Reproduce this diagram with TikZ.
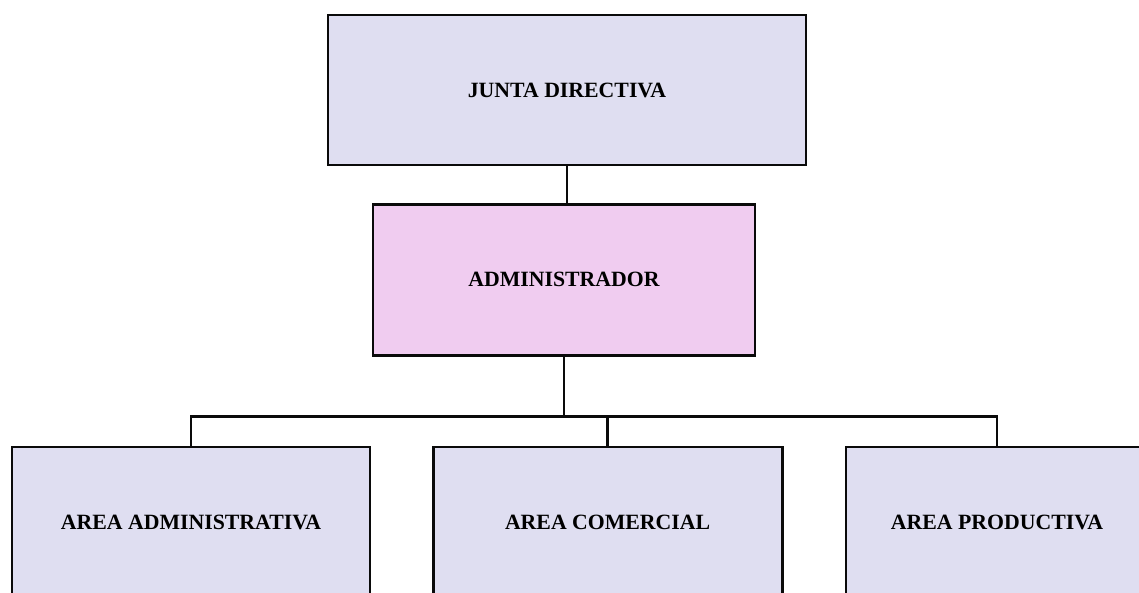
\documentclass[tikz,border=0pt]{standalone}
\usepackage{fontspec}
\setmainfont{Liberation Serif}
\usepackage{tikz}
\usetikzlibrary{positioning, calc}
\definecolor{mylav}{RGB}{223,222,241}
\definecolor{mypink}{RGB}{240,204,240}
\definecolor{mydark}{RGB}{10,10,10}
\tikzset{
  box/.style={rectangle, draw=mydark, fill=mylav, line width=2.1pt,
    minimum height=3.75cm, align=center,
    font=\bfseries\fontsize{15.5}{18}\selectfont},
  pinkbox/.style={box, fill=mypink},
  line/.style={line width=1.7pt, color=mydark}
}
\begin{document}
\begin{tikzpicture}
  \useasboundingbox (0,0) rectangle (28.475,-14.8);

  % Top of the chart
  \node[box, minimum width=11.95cm] (junta) at (14.175,-2.25) {JUNTA DIRECTIVA};
  \node[pinkbox, minimum width=9.55cm, minimum height=3.775cm] (admin) at (14.1,-6.99) {ADMINISTRADOR};

  % Areas
  \node[box, minimum width=8.95cm] (areaadm) at (4.775,-13.05) {AREA ADMINISTRATIVA};
  \node[box, minimum width=8.725cm] (areacom) at (15.19,-13.05) {AREA COMERCIAL};
  \node[box, minimum width=7.55cm] (areaprod) at (24.925,-13.05) {AREA PRODUCTIVA};

  % Connectors
  \draw[line] (junta.south) -- (junta.south |- admin.north);
  \coordinate (bus) at ($(admin.south)+(0,-1.5)$);
  \draw[line] (admin.south) -- (bus);
  \draw[line] (areaadm.north) |- (bus) -| (areaprod.north);
  \draw[line] (areacom.north) -- (areacom.north |- bus);
\end{tikzpicture}
\end{document}
